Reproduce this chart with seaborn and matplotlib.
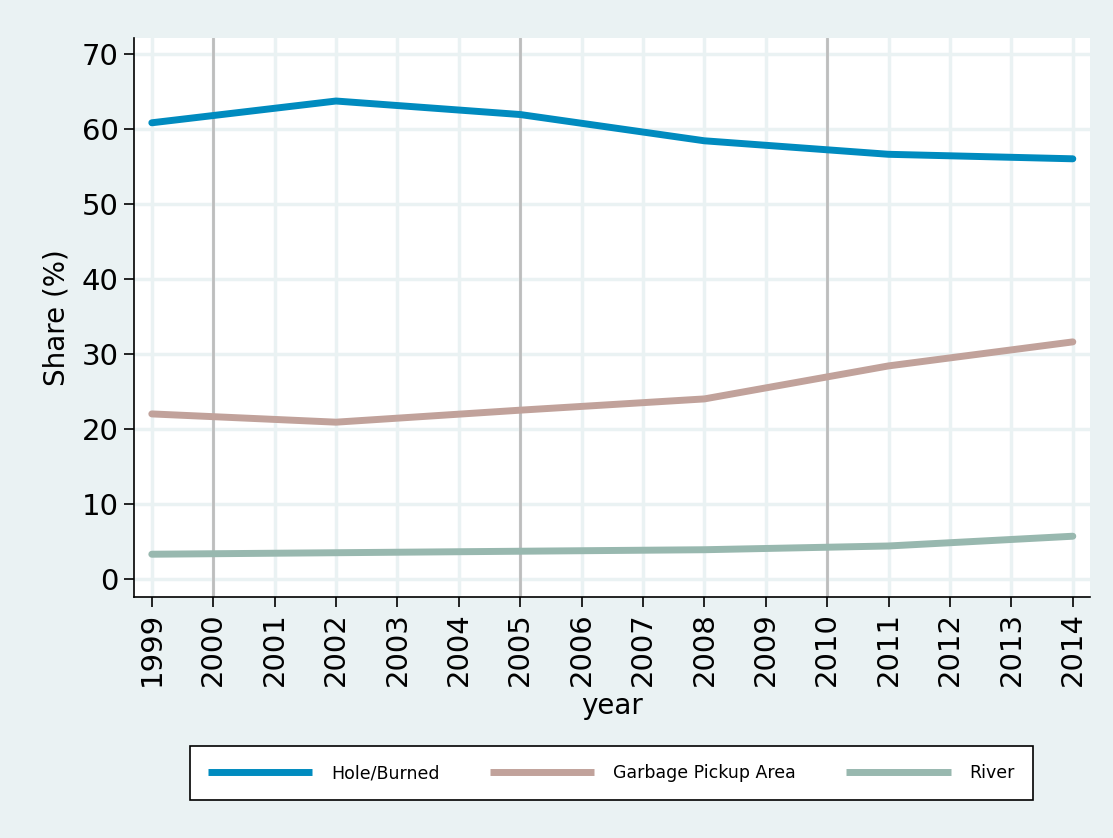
import matplotlib.pyplot as plt
import pandas as pd
import seaborn as sns

years = [1999, 2002, 2005, 2008, 2011, 2014]
hole_burned = [60.8, 63.7, 61.9, 58.4, 56.6, 56.0]
garbage_pickup = [22.0, 20.9, 22.5, 24.0, 28.4, 31.6]
river = [3.3, 3.5, 3.7, 3.9, 4.4, 5.7]

series_names = ["Hole/Burned", "Garbage Pickup Area", "River"]
colors = ["#008BBF", "#C1A29B", "#98B8AF"]

df = pd.DataFrame({
    "year": years * 3,
    "share": hole_burned + garbage_pickup + river,
    "method": [series_names[0]] * 6 + [series_names[1]] * 6 + [series_names[2]] * 6,
})

bg = "#EAF2F3"
sns.set_style("white")
plt.rcParams["font.family"] = ["DejaVu Sans"]
plt.rcParams["text.color"] = "black"
plt.rcParams["axes.labelcolor"] = "black"
plt.rcParams["xtick.color"] = "black"
plt.rcParams["ytick.color"] = "black"

fig = plt.figure(figsize=(11.13, 8.38), dpi=100, facecolor=bg)
ax = fig.add_axes([134 / 1113, 1 - 597 / 838, (1090 - 134) / 1113, (597 - 38) / 838])

# light grid at every tick
for yv in range(0, 71, 10):
    ax.axhline(yv, color=bg, lw=2.5, zorder=0)
for xv in range(1999, 2015):
    ax.axvline(xv, color=bg, lw=2.5, zorder=0)
# reference lines
for xv in [2000, 2005, 2010]:
    ax.axvline(xv, color="#BDBDBD", lw=2, zorder=1)

sns.lineplot(data=df, x="year", y="share", hue="method", palette=colors,
             linewidth=5, ax=ax, legend=False, zorder=3,
             solid_capstyle="round")

ax.set_xlim(1998.71, 2014.28)
ax.set_ylim(-2.4, 72.1)
ax.set_xticks(range(1999, 2015))
ax.set_xticklabels([str(y) for y in range(1999, 2015)], rotation=90, fontsize=21)
ax.set_yticks(range(0, 71, 10))
ax.set_yticklabels([str(v) for v in range(0, 71, 10)], fontsize=21)
ax.tick_params(axis="both", length=7, width=1.2, color="black", pad=4, direction="out")
ax.tick_params(axis="both", which="both", bottom=True, left=True)
ax.set_xlabel("year", fontsize=20, labelpad=4)
ax.set_ylabel("Share (%)", fontsize=20, labelpad=8)

for s in ["top", "right"]:
    ax.spines[s].set_visible(False)
for s in ["left", "bottom"]:
    ax.spines[s].set_color("black")
    ax.spines[s].set_linewidth(1.2)

handles = [plt.Line2D([], [], color=c, lw=5, solid_capstyle="butt") for c in colors]
leg = fig.legend(handles, series_names, loc="center",
                 bbox_to_anchor=((192 + 1031) / 2 / 1113, 1 - 773 / 838),
                 ncol=3, fontsize=12.5, frameon=True, fancybox=False, framealpha=1,
                 handlelength=6.0, columnspacing=2.9, handletextpad=1.1,
                 borderpad=1.05, borderaxespad=0)
leg.get_frame().set_edgecolor("black")
leg.get_frame().set_linewidth(1.2)
leg.get_frame().set_facecolor("white")

fig.savefig("out.png", dpi=100, facecolor=bg)
